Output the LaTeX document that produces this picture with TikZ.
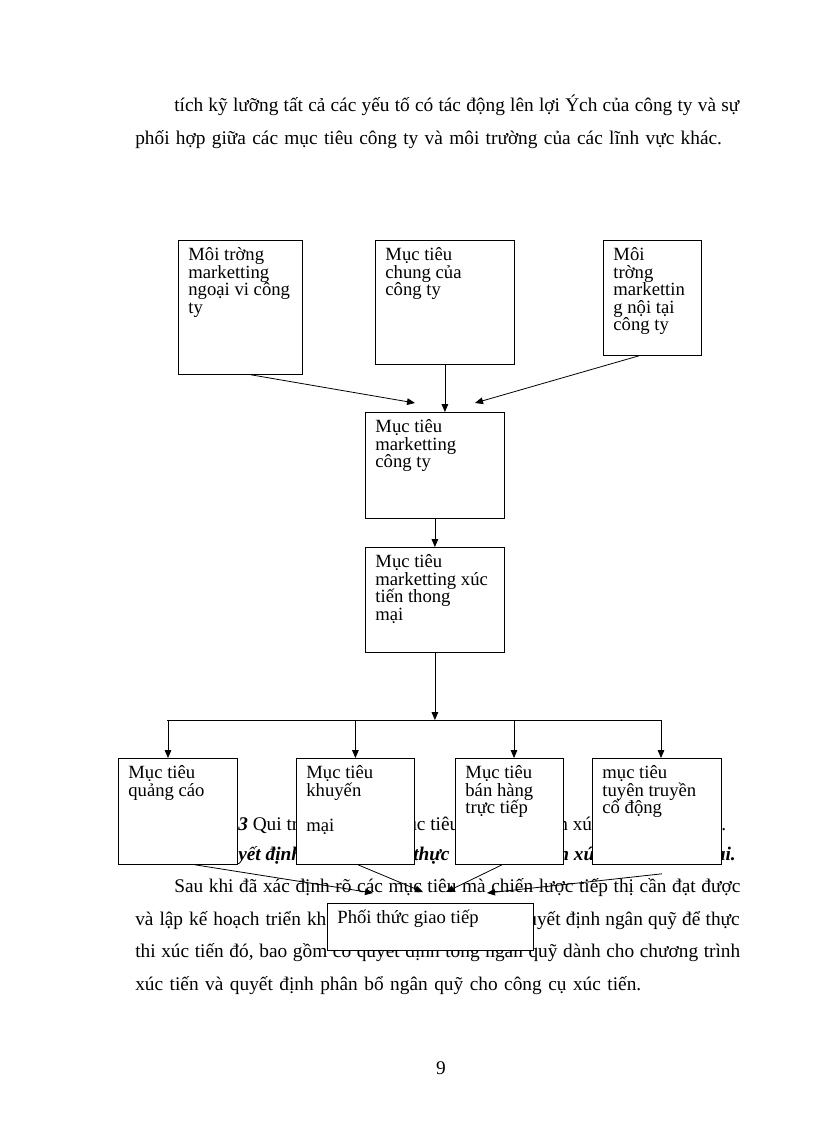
\documentclass[tikz,border=0pt]{standalone}
\usepackage{fontspec}
\setmainfont{Liberation Serif}
\usetikzlibrary{arrows.meta,calc}
\newcommand\bodyf{\fontsize{14.5}{17}\selectfont}
\newcommand\boxf{\fontsize{14}{13.2}\selectfont}
\newcommand\bxt[3]{\parbox[t][#2][t]{#1}{\leftskip=7.5pt\rightskip=-30pt plus 1fil\parindent=0pt\rule{0pt}{15pt}#3}}
\newcommand\jline[2]{\makebox[#1][s]{#2}}
\begin{document}
\begin{tikzpicture}[x=0.75pt,y=-0.75pt,
  bx/.style={draw, fill=white, line width=0.6pt, inner sep=0pt, anchor=north west, font=\boxf},
  txt/.style={inner sep=0pt, anchor=base west, font=\bodyf},
  arr/.style={line width=0.6pt, -{Triangle[length=6pt,width=5pt]}},
  cline/.style={line width=0.6pt}]
\useasboundingbox[fill=white] (0,0) rectangle (816,1123);

% body text
\node[txt] (t1) at (174,112) {\jline{423.75pt}{tích kỹ lưỡng tất cả các yếu tố có tác động lên lợi Ých của công ty và sự}};
\node[txt] (t2) at (135,145) {\jline{440pt}{phối hợp giữa các mục tiêu công ty và môi trường của các lĩnh vực khác.}};

% caption fragments (partly hidden by boxes)
\node[txt] (c1) at (238,830) {\textbf{\textit{3}} Qui tr};
\node[txt] (c2) at (407,830) {ục tiêu};
\node[txt] (c3) at (558,830) {n xúc};
\node[txt] (c4) at (721,830) {.};
\node[txt, font=\bodyf\bfseries\itshape] (c5) at (238,860) {yết định};
\node[txt, font=\bodyf\bfseries\itshape] (c6) at (413,860) {thực};
\node[txt, font=\bodyf\bfseries\itshape] (c7) at (558,860) {n xúc};
\node[txt, font=\bodyf\bfseries\itshape, anchor=base east] (c8) at (736,860) {mại.};

% paragraph
\node[txt] (p1) at (174,892) {\jline{424.5pt}{Sau khi đã xác định rõ các mục tiêu mà chiến lược tiếp thị cần đạt được}};
\node[txt] (p2a) at (135,925) {\jline{153.75pt}{và lập kế hoạch triển khai}};
\node[txt, anchor=base east] (p2b) at (740,925) {\jline{166.5pt}{quyết định ngân quỹ để thực}};
\node[txt] (p3) at (135,957) {\jline{453.75pt}{thi xúc tiến đó, bao gồm có quyết định tổng ngân quỹ dành cho chương trình}};
\node[txt] (p4) at (135,990) {\jline{379.5pt}{xúc tiến và quyết định phân bổ ngân quỹ cho công cụ xúc tiến.}};
\node[txt, anchor=base] (pg) at (441,1074) {9};

% boxes
\node[bx] (A) at (178,240) {\bxt{93pt}{100.5pt}{Môi trờng\\marketting\\ngoại vi công\\ty}};
\node[bx] (B) at (375,240) {\bxt{104.25pt}{93pt}{Mục tiêu\\chung của\\công ty}};
\node[bx] (I) at (603,240) {\bxt{73.5pt}{86.25pt}{Môi\\trờng\\markettin\\g nội tại\\công ty}};
\node[bx] (C) at (365,412) {\bxt{104.25pt}{79.5pt}{Mục tiêu\\marketting\\công ty}};
\node[bx] (D) at (365,547) {\bxt{104.25pt}{78.75pt}{Mục tiêu\\marketting xúc\\tiến thong\\mại}};
\node[bx] (E) at (118,758) {\bxt{89.25pt}{79.5pt}{Mục tiêu\\quảng cáo}};
\node[bx] (F) at (296,758) {\bxt{88.5pt}{79.5pt}{Mục tiêu\\khuyến\\\mbox{}\\mại}};
\node[bx] (G) at (455,758) {\bxt{81pt}{79.5pt}{Mục tiêu\\bán hàng\\trực tiếp}};
\node[bx] (H) at (592,758) {\bxt{96.75pt}{79.5pt}{mục tiêu\\tuyên truyền\\cổ động}};
\node[bx] (P) at (327,903) {\bxt{154.5pt}{35.25pt}{Phối thức giao tiếp}};

% top connectors
\coordinate (aS) at ($(A.south west)+(73,0)$);
\coordinate (aE) at (415,403);
\coordinate (iS) at ($(I.south west)+(36,0)$);
\coordinate (iE) at (475,403);
\draw[arr] (aS) -- (aE);
\draw[arr] (B.south) -- (B.south |- C.north);
\draw[arr] (iS) -- (iE);
\draw[arr] (C.south) -- (D.north);

% distribution
\coordinate (hl) at (167,720);
\coordinate (hr) at (662,720);
\coordinate (eT) at ($(E.north west)+(50,0)$);
\coordinate (gT) at ($(G.north west)+(59,0)$);
\coordinate (hT) at ($(H.north west)+(69,0)$);
\draw[arr] (D.south) -- (D.south |- hl);
\draw[cline] (hl) -- (hr);
\draw[arr] (eT |- hl) -- (eT);
\draw[arr] (F.north |- hl) -- (F.north);
\draw[arr] (gT |- hl) -- (gT);
\draw[arr] (hT |- hl) -- (hT);

% bottom connectors
\coordinate (eS) at ($(E.south west)+(77,0)$);
\coordinate (fS) at ($(F.south west)+(62,0)$);
\coordinate (gS) at ($(G.south west)+(47,0)$);
\coordinate (hS) at ($(H.south west)+(70,9)$);
\coordinate (eX) at (373,893);
\coordinate (fX) at (423,892);
\coordinate (gX) at (446,892);
\coordinate (hX) at (487,893);
\draw[arr] (eS) -- (eX);
\draw[arr] (fS) -- (fX);
\draw[arr] (gS) -- (gX);
\draw[arr] (hS) -- (hX);
\end{tikzpicture}
\end{document}
